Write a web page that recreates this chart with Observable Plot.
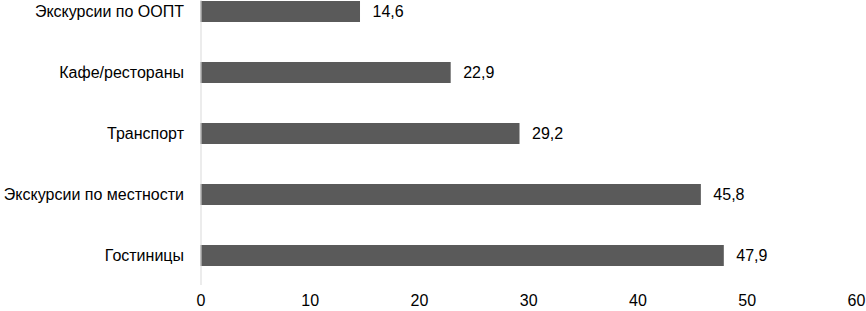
<!DOCTYPE html>
<html>
<head>
<meta charset="utf-8">
<script src="https://cdn.jsdelivr.net/npm/d3@7"></script>
<script src="https://cdn.jsdelivr.net/npm/@observablehq/plot@0.6"></script>
<style>
  body { margin: 0; background: #fff; }
  #chart svg { display: block; }
</style>
</head>
<body>
<div id="chart"></div>
<script>
const categories = ["Экскурсии по ООПТ", "Кафе/рестораны", "Транспорт", "Экскурсии по местности", "Гостиницы"];
const values = [14.6, 22.9, 29.2, 45.8, 47.9];
const xTicks = [0, 10, 20, 30, 40, 50, 60];

const data = categories.map((c, i) => ({category: c, value: values[i]}));
const fmt = v => v.toFixed(1).replace(".", ",");

const chart = Plot.plot({
  width: 866,
  height: 311,
  marginLeft: 200.5,
  marginRight: 10,
  marginTop: 0,
  marginBottom: 26,
  style: {fontFamily: "'Liberation Sans', Arial, sans-serif", fontSize: "16px", color: "#000", background: "#fff"},
  x: {domain: [0, 60], ticks: xTicks, tickSize: 0, tickPadding: 9, tickFormat: d => String(d), label: null},
  y: {domain: categories, range: [-19.5, 285.5], paddingInner: 0.656, paddingOuter: 0.328, label: null, tickSize: 0, tickPadding: 17},
  marks: [
    Plot.barX(data, {x: "value", y: "category", fill: "#5a5a5a"}),
    Plot.ruleX([0], {stroke: "#d9d9d9", strokeWidth: 1}),
    Plot.text(data, {x: "value", y: "category", text: d => fmt(d.value), textAnchor: "start", dx: 12, fill: "#000", fontSize: 16}),
    Plot.axisX({ticks: xTicks, tickSize: 0, tickPadding: 9, tickFormat: d => String(d), label: null, fontSize: 16}),
    Plot.axisY({tickSize: 0, tickPadding: 17, label: null, fontSize: 16})
  ]
});
document.getElementById("chart").appendChild(chart);
</script>
</body>
</html>
